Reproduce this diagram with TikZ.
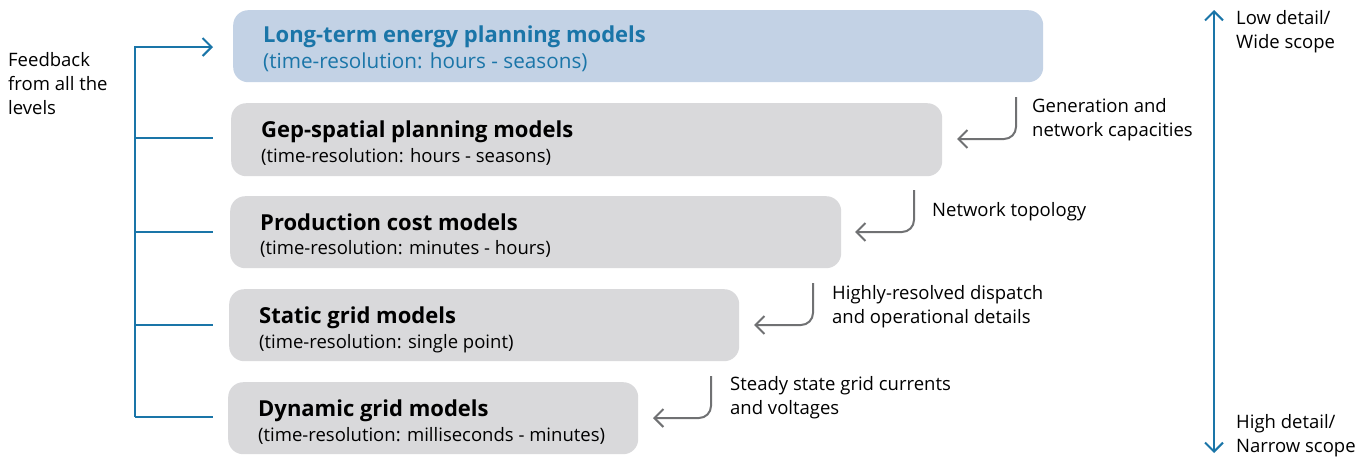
\documentclass[tikz,border=0pt]{standalone}
\usepackage{fontspec}
\setmainfont{Open Sans}
\usetikzlibrary{arrows.meta}
\definecolor{irblue}{HTML}{1A75A8}
\definecolor{boxblue}{HTML}{C3D2E5}
\definecolor{boxgray}{HTML}{D9D9DB}
\definecolor{arrgray}{HTML}{707173}
\tikzset{
  barb/.tip={Straight Barb[length=9pt,width=18pt,line width=2pt]},
  modelbox/.style={rounded corners=15pt, anchor=north west, inner sep=0pt},
  ttl/.style={anchor=base west, inner sep=0pt, font=\fontsize{22}{26}\selectfont\bfseries},
  sub/.style={anchor=base west, inner sep=0pt, font=\fontsize{18.5}{22}\selectfont},
  lbl/.style={anchor=base west, inner sep=0pt, align=left, font=\fontsize{18.5}{24}\selectfont},
  fb/.style={draw=irblue, line width=2pt},
  flow/.style={draw=arrgray, line width=2pt, rounded corners=12pt, -barb},
  scalearrow/.style={draw=irblue, line width=2pt, barb-barb}
}
\begin{document}
\begin{tikzpicture}[x=1pt,y=-1pt]
\useasboundingbox (0,0) rectangle (1368,456);
% boxes
\node[modelbox, fill=boxblue, minimum width=810pt, minimum height=72pt] (b1) at (233,10) {};
\node[modelbox, fill=boxgray, minimum width=711pt, minimum height=73pt] (b2) at (231,103) {};
\node[modelbox, fill=boxgray, minimum width=611pt, minimum height=72pt] (b3) at (230,196) {};
\node[modelbox, fill=boxgray, minimum width=510pt, minimum height=72pt] (b4) at (229,289) {};
\node[modelbox, fill=boxgray, minimum width=410pt, minimum height=72pt] (b5) at (228,382) {};
% texts
\node[ttl, text=irblue] (t1) at (263,42) {Long-term energy planning models};
\node[sub, text=irblue, font=\fontsize{20.7}{24}\selectfont] (s1) at (263,68) {(time-resolution: hours - seasons)};
\node[ttl] (t2) at (261,137) {Gep-spatial planning models};
\node[sub] (s2) at (261,162) {(time-resolution: hours - seasons)};
\node[ttl] (t3) at (260,230) {Production cost models};
\node[sub] (s3) at (260,254) {(time-resolution: minutes - hours)};
\node[ttl] (t4) at (259,323) {Static grid models};
\node[sub] (s4) at (259,348) {(time-resolution: single point)};
\node[ttl] (t5) at (258,416) {Dynamic grid models};
\node[sub] (s5) at (258,441) {(time-resolution: milliseconds - minutes)};
% feedback bracket
\coordinate (fbtop) at (135,47);
\coordinate (fbbot) at (135,417);
\coordinate (e1) at (213,47);
\coordinate (e2) at (213,138);
\coordinate (e3) at (213,232);
\coordinate (e4) at (213,325);
\coordinate (e5) at (213,417);
\draw[fb, -barb] (fbbot) -- (fbtop) -- (e1);
\draw[fb] (fbbot) -- (e5);
\draw[fb] (135,138) -- (e2);
\draw[fb] (135,232) -- (e3);
\draw[fb] (135,325) -- (e4);
\node[lbl] (fbl) at (8,114) {Feedback\\from all the\\levels};
% flow arrows
\coordinate (a1s) at (1016,97);
\coordinate (a1c) at (1016,139);
\coordinate (a1e) at (957,139);
\draw[flow] (a1s) -- (a1c) -- (a1e);
\node[lbl] (l1) at (1032,136) {Generation and\\network capacities};
\coordinate (a2s) at (914,190);
\coordinate (a2c) at (914,232);
\coordinate (a2e) at (855,232);
\draw[flow] (a2s) -- (a2c) -- (a2e);
\node[lbl] (l2) at (932,216) {Network topology};
\coordinate (a3s) at (813,283);
\coordinate (a3c) at (813,325);
\coordinate (a3e) at (754,325);
\draw[flow] (a3s) -- (a3c) -- (a3e);
\node[lbl] (l3) at (832,323) {Highly-resolved dispatch\\and operational details};
\coordinate (a4s) at (711,376);
\coordinate (a4c) at (711,418);
\coordinate (a4e) at (653,418);
\draw[flow] (a4s) -- (a4c) -- (a4e);
\node[lbl] (l4) at (730,414) {Steady state grid currents\\and voltages};
% scale arrow
\coordinate (st) at (1214,10);
\coordinate (sb) at (1214,453);
\draw[scalearrow] (st) -- (sb);
\node[lbl] (lt) at (1236,48) {Low detail/\\Wide scope};
\node[lbl] (lb) at (1236,452) {High detail/\\Narrow scope};
\end{tikzpicture}
\end{document}
